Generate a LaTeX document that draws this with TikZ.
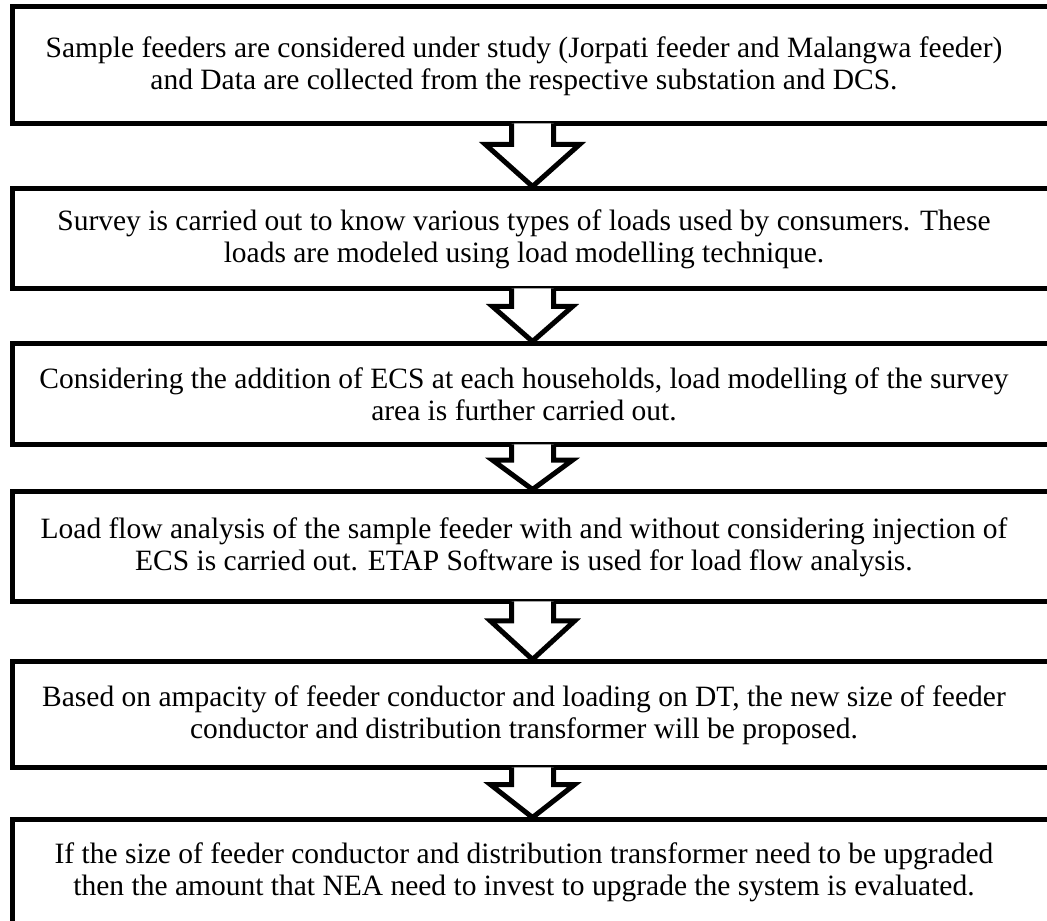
\documentclass[tikz,border=0pt]{standalone}
\usepackage{fontspec}
\setmainfont{Liberation Serif}
\usetikzlibrary{calc}

\tikzset{
  stepbox/.style={draw, line width=5pt, inner sep=0pt, minimum width=1078pt},
  steptext/.style={align=center, font=\fontsize{29.5}{32}\selectfont},
  blockarrow/.style={draw, fill=white, line width=5pt, line join=miter}
}

\begin{document}
\begin{tikzpicture}[x=1pt, y=1pt]
\useasboundingbox (0,0) rectangle (1047,921);
\clip (0,0) rectangle (1047,921);

% Boxes (open on the right, as cut)
\node[stepbox, minimum height=117pt] (s1) at (551,855.5) {};
\node[stepbox, minimum height=100pt] (s2) at (551,682) {};
\node[stepbox, minimum height=101pt] (s3) at (551,526.5) {};
\node[stepbox, minimum height=110pt] (s4) at (551,374) {};
\node[stepbox, minimum height=106pt] (s5) at (551,206) {};
\node[stepbox, minimum height=104pt] (s6) at (551,49) {};

% Block arrows between the boxes
\foreach \a/\b/\w in {s1/s2/47, s2/s3/40, s3/s4/40, s4/s5/42, s5/s6/42}
  \filldraw[blockarrow] let \p1=(\a.south), \p2=(\b.north), \n1={0.3*(\y1-\y2)} in
    (511.5pt,\y1+3pt) -- (511.5pt,\y1-\n1) -- (532.5pt-\w pt,\y1-\n1)
    -- (532.5pt,\y2) -- (532.5pt+\w pt,\y1-\n1) -- (553.5pt,\y1-\n1)
    -- (553.5pt,\y1+3pt);

% Texts
\node[steptext] (t1) at (524,855) {Sample feeders are considered under study (Jorpati feeder and Malangwa feeder)\\ and Data are collected from the respective substation and DCS.};
\node[steptext] (t2) at (524,682) {Survey is carried out to know various types of loads used by consumers. These\\ loads are modeled using load modelling technique.};
\node[steptext] (t3) at (524,527) {Considering the addition of ECS at each households, load modelling of the survey\\ area is further carried out.};
\node[steptext] (t4) at (524,374) {Load flow analysis of the sample feeder with and without considering injection of\\ ECS is carried out. ETAP Software is used for load flow analysis.};
\node[steptext] (t5) at (524,206) {Based on ampacity of feeder conductor and loading on DT, the new size of feeder\\ conductor and distribution transformer will be proposed.};
\node[steptext] (t6) at (524,49) {If the size of feeder conductor and distribution transformer need to be upgraded\\ then the amount that NEA need to invest to upgrade the system is evaluated.};

\end{tikzpicture}
\end{document}
